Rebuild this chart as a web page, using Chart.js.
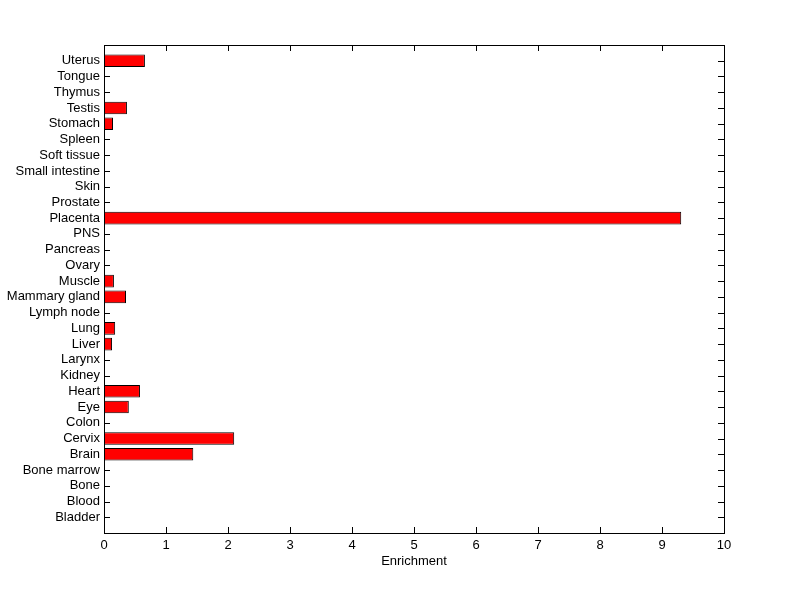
<!DOCTYPE html>
<html>
<head>
<meta charset="utf-8">
<script src="https://cdn.jsdelivr.net/npm/chart.js@4.4.0/dist/chart.umd.min.js"></script>
<style>
  html, body { margin: 0; padding: 0; background: #fff; }
  #wrap { width: 800px; height: 599px; }
</style>
</head>
<body>
<div id="wrap"><canvas id="chart" width="800" height="599"></canvas></div>
<script>
// tissues, bottom to top as in the figure
const tissues = ['Bladder', 'Blood', 'Bone', 'Bone marrow', 'Brain', 'Cervix', 'Colon', 'Eye',
    'Heart', 'Kidney', 'Larynx', 'Liver', 'Lung', 'Lymph node', 'Mammary gland', 'Muscle',
    'Ovary', 'Pancreas', 'PNS', 'Placenta', 'Prostate', 'Skin', 'Small intestine',
    'Soft tissue', 'Spleen', 'Stomach', 'Testis', 'Thymus', 'Tongue', 'Uterus'];
const enrichment = [0, 0, 0, 0, 1.44, 2.10, 0, 0.40,
    0.58, 0, 0, 0.13, 0.18, 0, 0.355, 0.16,
    0, 0, 0, 9.31, 0, 0, 0,
    0, 0, 0.145, 0.37, 0, 0, 0.66];
const xTicks = [0, 1, 2, 3, 4, 5, 6, 7, 8, 9, 10];

// pad with an empty slot at each end so the axis runs 0..31 like matlab
const labels = [''].concat(tissues, ['']);
const values = [null].concat(enrichment.map(v => v === 0 ? null : v), [null]);

const font = { family: "'Liberation Sans', Arial, sans-serif", size: 13 };

// matlab style box with inward ticks on all four sides
const boxTicks = {
    id: 'boxTicks',
    beforeDatasetsDraw(chart) {
        const { ctx, chartArea: a, scales } = chart;
        const len = 6;
        ctx.save();
        ctx.strokeStyle = '#000';
        ctx.lineWidth = 1;
        ctx.beginPath();
        scales.y.ticks.forEach((t, i) => {
            if (!labels[i]) return;
            const y = Math.round(scales.y.getPixelForTick(i)) + 0.5;
            ctx.moveTo(a.left, y); ctx.lineTo(a.left + len, y);
            ctx.moveTo(a.right, y); ctx.lineTo(a.right - len, y);
        });
        scales.x.ticks.forEach((t, i) => {
            const x = Math.round(scales.x.getPixelForTick(i)) + 0.5;
            ctx.moveTo(x, a.bottom); ctx.lineTo(x, a.bottom - len);
            ctx.moveTo(x, a.top); ctx.lineTo(x, a.top + len);
        });
        ctx.stroke();
        ctx.restore();
    },
    afterDraw(chart) {
        const { ctx, chartArea: a } = chart;
        ctx.save();
        ctx.strokeStyle = '#000';
        ctx.lineWidth = 1;
        ctx.strokeRect(Math.round(a.left) + 0.5, Math.round(a.top) + 0.5,
            Math.round(a.right - a.left), Math.round(a.bottom - a.top));
        ctx.restore();
    }
};

const chart = new Chart(document.getElementById('chart'), {
    type: 'bar',
    data: {
        labels: labels,
        datasets: [{
            data: values,
            backgroundColor: '#ff0000',
            borderColor: '#000000',
            borderWidth: 1,
            categoryPercentage: 1,
            barPercentage: 0.8
        }]
    },
    options: {
        indexAxis: 'y',
        responsive: false,
        animation: false,
        layout: { padding: { top: 45, right: 76, left: 0, bottom: 30 } },
        plugins: {
            legend: { display: false },
            tooltip: { enabled: false }
        },
        scales: {
            y: {
                type: 'category',
                reverse: true,
                offset: false,
                grid: { display: false, drawTicks: false },
                border: { display: false },
                ticks: { color: '#000', font: font, padding: 4, autoSkip: false },
                afterFit: s => { s.width = 104; }
            },
            x: {
                type: 'linear',
                min: 0,
                max: 10,
                afterBuildTicks: s => { s.ticks = xTicks.map(v => ({ value: v })); },
                grid: { display: false, drawTicks: false },
                border: { display: false },
                ticks: { color: '#000', font: font, padding: 5 },
                title: {
                    display: true,
                    text: 'Enrichment',
                    color: '#000',
                    font: font,
                    padding: { top: 4, bottom: 0 }
                },
                afterFit: s => { s.height = 36; }
            }
        }
    },
    plugins: [boxTicks]
});
</script>
</body>
</html>
